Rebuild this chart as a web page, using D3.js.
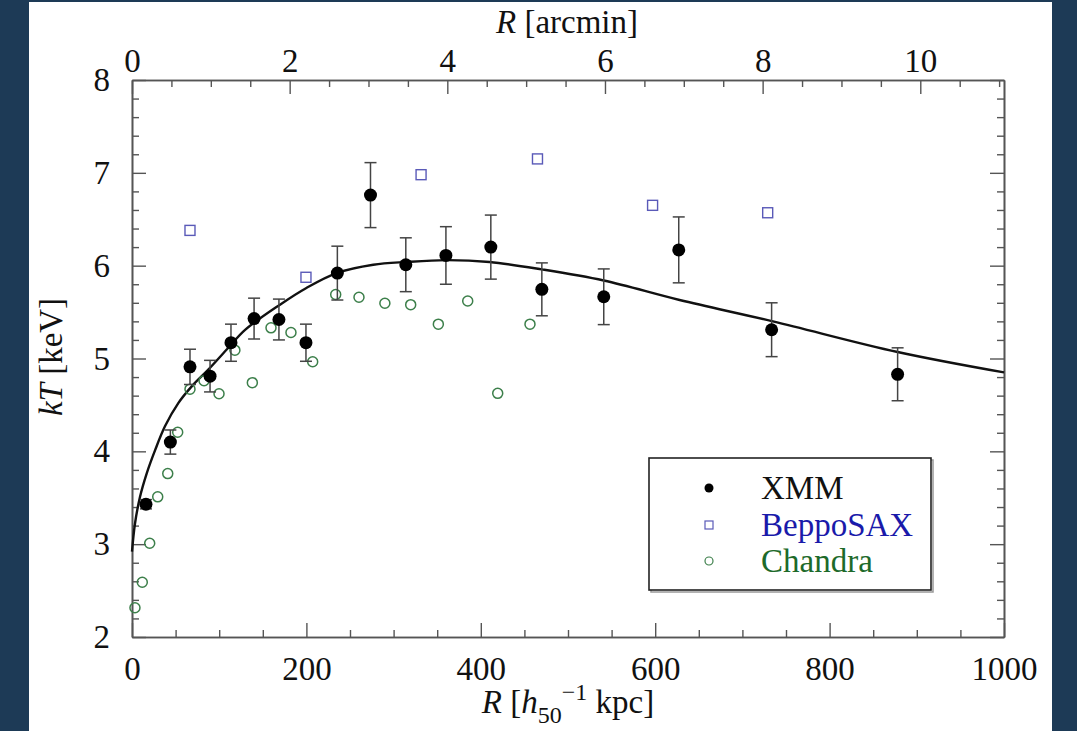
<!DOCTYPE html>
<html>
<head>
<meta charset="utf-8">
<script src="https://cdn.jsdelivr.net/npm/d3@7"></script>
<style>
  html, body { margin: 0; padding: 0; background: #1d3a56; }
  svg { display: block; }
  text { font-family: "Liberation Serif", "DejaVu Serif", serif; }
</style>
</head>
<body>
<div id="chart"></div>
<script>
// XMM: radius [h50^-1 kpc], kT [keV], error
const xmmR   = [16, 44, 66.5, 89.5, 113.5, 140, 168.5, 199.5, 235.5, 273.5, 314, 360, 411.5, 470, 541, 627, 733.5, 878];
const xmmT   = [3.43, 4.10, 4.91, 4.81, 5.17, 5.43, 5.42, 5.17, 5.92, 6.76, 6.01, 6.11, 6.20, 5.745, 5.665, 6.17, 5.31, 4.83];
const xmmErr = [0.05, 0.13, 0.19, 0.17, 0.2, 0.22, 0.22, 0.2, 0.29, 0.35, 0.29, 0.31, 0.345, 0.285, 0.30, 0.355, 0.29, 0.285];

const saxR = [66.5, 199.5, 331.5, 465, 597, 729];
const saxT = [6.38, 5.875, 6.98, 7.15, 6.65, 6.57];

const chandraR = [3.4, 11.8, 20.3, 29.5, 41, 52.4, 66.5, 82.6, 99.8, 118, 138, 159.4, 182.3, 207.2, 233.6, 260.3, 290, 319.6, 351.3, 385, 419.4, 456.4];
const chandraT = [2.315, 2.59, 3.01, 3.51, 3.76, 4.205, 4.67, 4.76, 4.62, 5.09, 4.74, 5.33, 5.28, 4.965, 5.69, 5.66, 5.595, 5.58, 5.37, 5.62, 4.625, 5.37];

// model curve
const modelR = [0, 3.4, 9.2, 16.8, 26.4, 37.8, 53.1, 68.5, 87.5, 110, 130, 169.7, 200, 234.7, 276.7, 315, 361, 410, 470, 541, 628, 735, 878, 1000];
const modelT = [2.92, 3.22, 3.51, 3.76, 4.01, 4.27, 4.52, 4.70, 4.88, 5.11, 5.31, 5.58, 5.76, 5.92, 6.01, 6.04, 6.06, 6.04, 5.96, 5.84, 5.63, 5.40, 5.07, 4.85];

const kpcTicks = [0, 200, 400, 600, 800, 1000];
const arcTicks = [0, 2, 4, 6, 8, 10];
const kTTicks = [2, 3, 4, 5, 6, 7, 8];
const kpcPerArcmin = 90.4;

const legendNames = ["XMM", "BeppoSAX", "Chandra"];

const W = 1077, H = 731;
const mLeft = 132, mRight = 1004, mTop = 80, mBottom = 637;

const svg = d3.select("#chart").append("svg").attr("width", W).attr("height", H);

svg.append("rect").attr("width", W).attr("height", H).attr("fill", "#1d3a56");
svg.append("rect").attr("x", 29).attr("y", 2).attr("width", 1023).attr("height", 729).attr("fill", "#fff");

const x = d3.scaleLinear().domain([0, 1000]).range([mLeft, mRight]);
const xArc = d3.scaleLinear().domain([0, 1000 / kpcPerArcmin]).range([mLeft, mRight]);
const y = d3.scaleLinear().domain([2, 8]).range([mBottom, mTop]);

const axisColor = "#555";
const fontSize = 33;
const fmt = d3.format("d");

function styleAxis(g) {
  g.attr("font-family", null);
  g.select(".domain").attr("stroke", axisColor).attr("stroke-width", 1.6);
  g.selectAll(".tick line").attr("stroke", axisColor).attr("stroke-width", 1.4);
  g.selectAll(".tick text").attr("fill", "#111").style("font-size", fontSize + "px")
    .style("font-family", "'Liberation Serif', serif");
}

// minor ticks
const kpcMinor = d3.range(0, 1001, 50).filter(d => d % 200 !== 0);
const arcMinor = d3.range(0, 11.01, 0.5).filter(d => d % 2 !== 0);
const kTMinor = d3.range(2, 8.001, 0.2).map(d => +d.toFixed(1)).filter(d => Math.abs(d - Math.round(d)) > 0.01);

svg.append("g").attr("transform", `translate(0,${mBottom})`)
  .call(d3.axisBottom(x).tickValues(kpcMinor).tickSize(-7).tickSizeOuter(0).tickFormat(""))
  .call(styleAxis);
svg.append("g").attr("transform", `translate(0,${mBottom})`)
  .call(d3.axisBottom(x).tickValues(kpcTicks).tickSize(-14).tickSizeOuter(0).tickPadding(20).tickFormat(fmt))
  .call(styleAxis);

svg.append("g").attr("transform", `translate(0,${mTop})`)
  .call(d3.axisTop(xArc).tickValues(arcMinor).tickSize(-7).tickSizeOuter(0).tickFormat(""))
  .call(styleAxis);
svg.append("g").attr("transform", `translate(0,${mTop})`)
  .call(d3.axisTop(xArc).tickValues(arcTicks).tickSize(-14).tickSizeOuter(0).tickPadding(8).tickFormat(fmt))
  .call(styleAxis);

svg.append("g").attr("transform", `translate(${mLeft},0)`)
  .call(d3.axisLeft(y).tickValues(kTMinor).tickSize(-7).tickSizeOuter(0).tickFormat(""))
  .call(styleAxis);
svg.append("g").attr("transform", `translate(${mLeft},0)`)
  .call(d3.axisLeft(y).tickValues(kTTicks).tickSize(-14).tickSizeOuter(0).tickPadding(22).tickFormat(fmt))
  .call(styleAxis);

svg.append("g").attr("transform", `translate(${mRight},0)`)
  .call(d3.axisRight(y).tickValues(kTMinor).tickSize(-7).tickSizeOuter(0).tickFormat(""))
  .call(styleAxis);
svg.append("g").attr("transform", `translate(${mRight},0)`)
  .call(d3.axisRight(y).tickValues(kTTicks).tickSize(-14).tickSizeOuter(0).tickFormat(""))
  .call(styleAxis);

// axis titles
const topTitle = svg.append("text").attr("x", 567).attr("y", 33).attr("text-anchor", "middle")
  .style("font-size", "33px").attr("fill", "#111");
topTitle.append("tspan").attr("font-style", "italic").text("R");
topTitle.append("tspan").text(" [arcmin]");

const botTitle = svg.append("text").attr("x", 568).attr("y", 713).attr("text-anchor", "middle")
  .style("font-size", "33px").attr("fill", "#111");
botTitle.append("tspan").attr("font-style", "italic").text("R");
botTitle.append("tspan").text(" [");
botTitle.append("tspan").attr("font-style", "italic").text("h");
botTitle.append("tspan").attr("dy", 10).style("font-size", "24px").text("50");
botTitle.append("tspan").attr("dy", -23).style("font-size", "24px").text("\u22121");
botTitle.append("tspan").attr("dy", 13).text(" kpc]");

const yTitle = svg.append("text").attr("transform", "translate(62,357) rotate(-90)")
  .attr("text-anchor", "middle").style("font-size", "33px").attr("fill", "#111");
yTitle.append("tspan").attr("font-style", "italic").text("kT");
yTitle.append("tspan").text(" [keV]");

// model curve
const model = modelR.map((r, i) => [r, modelT[i]]);
svg.append("path").datum(model)
  .attr("d", d3.line().x(d => x(d[0])).y(d => y(d[1])).curve(d3.curveCatmullRom.alpha(0.5)))
  .attr("fill", "none").attr("stroke", "#111").attr("stroke-width", 2.4);

// chandra
const chandra = chandraR.map((r, i) => ({ r, t: chandraT[i] }));
svg.append("g").selectAll("circle").data(chandra).join("circle")
  .attr("cx", d => x(d.r)).attr("cy", d => y(d.t)).attr("r", 5)
  .attr("fill", "none").attr("stroke", "#3c7f4a").attr("stroke-width", 1.5);

// beppoSAX
const sax = saxR.map((r, i) => ({ r, t: saxT[i] }));
svg.append("g").selectAll("rect").data(sax).join("rect")
  .attr("x", d => x(d.r) - 5).attr("y", d => y(d.t) - 5).attr("width", 10).attr("height", 10)
  .attr("fill", "none").attr("stroke", "#5a5ab8").attr("stroke-width", 1.4);

// XMM with error bars
const xmm = xmmR.map((r, i) => ({ r, t: xmmT[i], e: xmmErr[i] }));
const eb = svg.append("g").attr("stroke", "#444").attr("stroke-width", 1.5);
eb.selectAll("line.v").data(xmm).join("line").attr("class", "v")
  .attr("x1", d => x(d.r)).attr("x2", d => x(d.r))
  .attr("y1", d => y(d.t + d.e)).attr("y2", d => y(d.t - d.e));
eb.selectAll("line.t").data(xmm).join("line").attr("class", "t")
  .attr("x1", d => x(d.r) - 6).attr("x2", d => x(d.r) + 6)
  .attr("y1", d => y(d.t + d.e)).attr("y2", d => y(d.t + d.e));
eb.selectAll("line.b").data(xmm).join("line").attr("class", "b")
  .attr("x1", d => x(d.r) - 6).attr("x2", d => x(d.r) + 6)
  .attr("y1", d => y(d.t - d.e)).attr("y2", d => y(d.t - d.e));
svg.append("g").selectAll("circle").data(xmm).join("circle")
  .attr("cx", d => x(d.r)).attr("cy", d => y(d.t)).attr("r", 6.5).attr("fill", "#000");

// legend
const lg = svg.append("g");
lg.append("rect").attr("x", 651).attr("y", 460).attr("width", 282).attr("height", 132)
  .attr("fill", "none").attr("stroke", "#999").attr("stroke-width", 1.5);
lg.append("rect").attr("x", 649).attr("y", 458).attr("width", 282).attr("height", 132)
  .attr("fill", "#fff").attr("stroke", "#222").attr("stroke-width", 1.6);
const legColors = ["#111", "#1a1aaa", "#1d6a2a"];
const legY = [488, 525, 561];
legendNames.forEach((name, i) => {
  lg.append("text").attr("x", 761).attr("y", legY[i] + 11).style("font-size", "33px")
    .attr("fill", legColors[i]).text(name);
});
lg.append("circle").attr("cx", 709).attr("cy", legY[0]).attr("r", 4.5).attr("fill", "#000");
lg.append("rect").attr("x", 705).attr("y", legY[1] - 4).attr("width", 8).attr("height", 8)
  .attr("fill", "none").attr("stroke", "#5a5ab8").attr("stroke-width", 1.2);
lg.append("circle").attr("cx", 709).attr("cy", legY[2]).attr("r", 4).attr("fill", "none")
  .attr("stroke", "#3c7f4a").attr("stroke-width", 1.2);
</script>
</body>
</html>
